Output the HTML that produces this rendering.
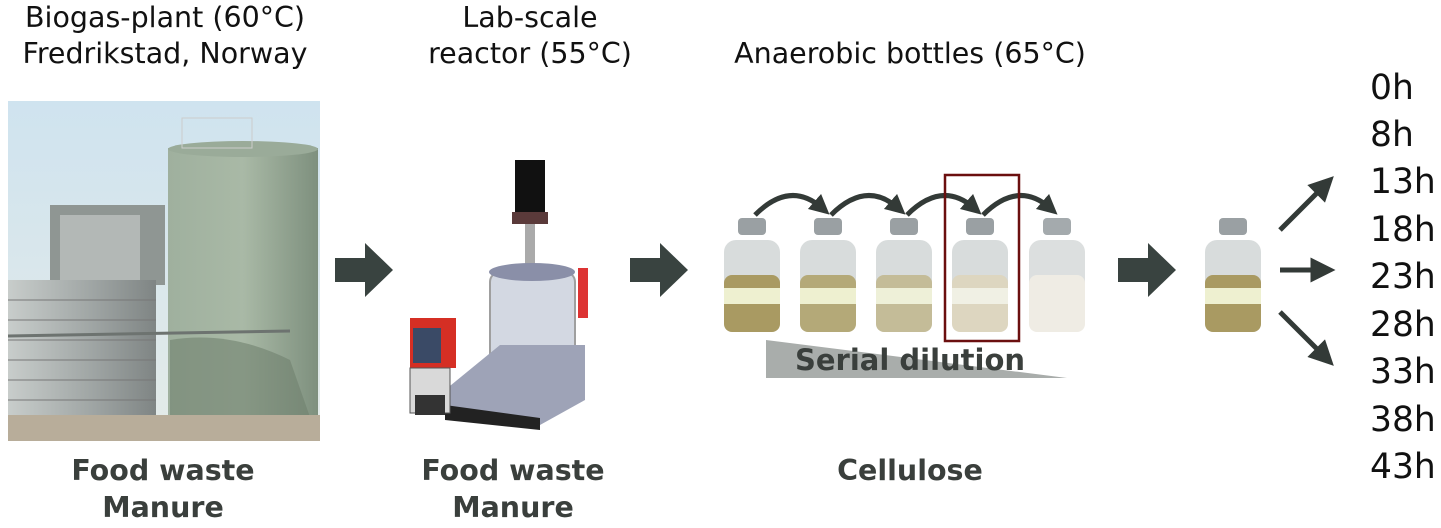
<!DOCTYPE html>
<html><head><meta charset="utf-8"><style>
body{margin:0;width:1441px;height:528px;background:#fff;position:relative;overflow:hidden;font-family:"DejaVu Sans","Liberation Sans",sans-serif}
.t{position:absolute;font-size:28.5px;color:#111;text-align:center;line-height:36px;white-space:nowrap}
.b{position:absolute;font-size:28.5px;font-weight:bold;color:#3a3f3c;text-align:center;line-height:37px;white-space:nowrap}
.h{position:absolute;left:1370px;font-size:34.5px;color:#111;line-height:40px}
</style></head><body>
<div class="t" style="left:0;width:330px;top:0">Biogas-plant (60°C)<br>Fredrikstad, Norway</div>
<div class="t" style="left:380px;width:300px;top:0">Lab-scale<br>reactor (55°C)</div>
<div class="t" style="left:700px;width:420px;top:36px">Anaerobic bottles (65°C)</div>
<div class="b" style="left:13px;width:300px;top:452px">Food waste<br>Manure</div>
<div class="b" style="left:363px;width:300px;top:452px">Food waste<br>Manure</div>
<div class="b" style="left:760px;width:300px;top:452px">Cellulose</div>
<div class="h" style="top:68px">0h</div><div class="h" style="top:115px">8h</div><div class="h" style="top:162px">13h</div><div class="h" style="top:210px">18h</div><div class="h" style="top:257px">23h</div><div class="h" style="top:305px">28h</div><div class="h" style="top:352px">33h</div><div class="h" style="top:400px">38h</div><div class="h" style="top:447px">43h</div>
<svg width="1441" height="528" style="position:absolute;left:0;top:0">
<defs>
<linearGradient id="sky" x1="0" y1="0" x2="0" y2="1"><stop offset="0" stop-color="#cfe3ef"/><stop offset="1" stop-color="#e4ebe8"/></linearGradient>
<linearGradient id="gt" x1="0" x2="1"><stop offset="0" stop-color="#9fb09e"/><stop offset=".5" stop-color="#a9b9a6"/><stop offset="1" stop-color="#7e907e"/></linearGradient>
<linearGradient id="st" x1="0" x2="1"><stop offset="0" stop-color="#c8cdcb"/><stop offset=".6" stop-color="#9da3a2"/><stop offset="1" stop-color="#7f8584"/></linearGradient>
<marker id="ah" markerWidth="4" markerHeight="4" refX="2" refY="2" orient="auto"><path d="M0,0L4,2L0,4z" fill="#333a37"/></marker>
<marker id="ah2" markerWidth="5" markerHeight="5" refX="2.5" refY="2.5" orient="auto"><path d="M0,0L5,2.5L0,5z" fill="#333a37"/></marker>
</defs>
<rect x="8" y="101" width="312" height="340" fill="url(#sky)"/>
<rect x="50" y="205" width="115" height="80" fill="#8f9693"/>
<rect x="60" y="215" width="80" height="70" fill="#b3b8b6"/>
<rect x="168" y="148" width="150" height="292" fill="url(#gt)"/>
<ellipse cx="243" cy="149" rx="75" ry="8" fill="#9aab99"/>
<rect x="182" y="118" width="70" height="30" fill="none" stroke="#ccc" stroke-width="1"/>
<rect x="8" y="280" width="148" height="160" fill="url(#st)"/>
<g stroke="#777" stroke-width="1"><line x1="8" y1="300" x2="156" y2="300"/><line x1="8" y1="320" x2="156" y2="320"/><line x1="8" y1="340" x2="156" y2="340"/><line x1="8" y1="360" x2="156" y2="360"/><line x1="8" y1="380" x2="156" y2="380"/><line x1="8" y1="400" x2="156" y2="400"/></g>
<line x1="8" y1="336" x2="290" y2="331" stroke="#6d7370" stroke-width="3"/>
<path d="M170 340 Q230 330 290 360 L318 440 L170 440z" fill="#6f806e" opacity=".6"/>
<rect x="8" y="415" width="312" height="26" fill="#b8ad9a"/>
<rect x="515" y="160" width="30" height="55" fill="#111"/>
<rect x="512" y="212" width="36" height="12" fill="#5a3a3a"/>
<rect x="525" y="224" width="10" height="50" fill="#aaa"/>
<rect x="490" y="272" width="85" height="115" rx="10" fill="#c9cfdc" stroke="#888" stroke-width="2" opacity=".8"/>
<ellipse cx="532" cy="272" rx="43" ry="9" fill="#8a8fa8"/>
<rect x="578" y="268" width="10" height="50" fill="#d33"/>
<path d="M445 390 L500 345 L585 345 L585 400 L540 425 L445 415z" fill="#9ea3b7"/>
<path d="M445 405 L540 418 L540 430 L445 420z" fill="#222"/>
<rect x="410" y="318" width="46" height="50" fill="#d52f24"/>
<rect x="413" y="328" width="28" height="35" fill="#3a4a66"/>
<rect x="410" y="368" width="40" height="45" fill="#d9d9d9" stroke="#555"/>
<rect x="415" y="395" width="30" height="20" fill="#333"/>
<g fill="#394340">
<path d="M335 258h30v-15l28 27-28 27v-15h-30z"/>
<path d="M630 258h30v-15l28 27-28 27v-15h-30z"/>
<path d="M1118 258h30v-15l28 27-28 27v-15h-30z"/>
</g>
<path d="M766 340 L766 378 L1067 378z" fill="#a9adab"/>
<text x="910" y="370" text-anchor="middle" font-family="DejaVu Sans,sans-serif" font-size="29" font-weight="bold" fill="#3a3f3c">Serial dilution</text>
<g>
<g transform="translate(752,0)"><rect x="-28" y="240" width="56" height="92" rx="12" fill="#d8dcdc"/><rect x="-28" y="275" width="56" height="57" rx="8" fill="#a99a62"/><rect x="-28" y="288" width="56" height="16" fill="#eef0d0"/><rect x="-14" y="218" width="28" height="17" rx="4" fill="#9aa0a3"/></g>
<g transform="translate(828,0)"><rect x="-28" y="240" width="56" height="92" rx="12" fill="#d8dcdc"/><rect x="-28" y="275" width="56" height="57" rx="8" fill="#b4a978"/><rect x="-28" y="288" width="56" height="16" fill="#eef0d0"/><rect x="-14" y="218" width="28" height="17" rx="4" fill="#9aa0a3"/></g>
<g transform="translate(904,0)"><rect x="-28" y="240" width="56" height="92" rx="12" fill="#d8dcdc"/><rect x="-28" y="275" width="56" height="57" rx="8" fill="#c4bc98"/><rect x="-28" y="288" width="56" height="16" fill="#eef0d8"/><rect x="-14" y="218" width="28" height="17" rx="4" fill="#9aa0a3"/></g>
<g transform="translate(980,0)"><rect x="-28" y="240" width="56" height="92" rx="12" fill="#d8dcdc"/><rect x="-28" y="275" width="56" height="57" rx="8" fill="#ddd6c0"/><rect x="-28" y="288" width="56" height="16" fill="#f0f0e4"/><rect x="-14" y="218" width="28" height="17" rx="4" fill="#9aa0a3"/></g>
<g transform="translate(1057,0)"><rect x="-28" y="240" width="56" height="92" rx="12" fill="#dcdfdf"/><rect x="-28" y="275" width="56" height="57" rx="8" fill="#efece4"/><rect x="-14" y="218" width="28" height="17" rx="4" fill="#a4aaad"/></g>
<g transform="translate(1233,0)"><rect x="-28" y="240" width="56" height="92" rx="12" fill="#d8dcdc"/><rect x="-28" y="275" width="56" height="57" rx="8" fill="#a99a62"/><rect x="-28" y="288" width="56" height="16" fill="#eef0d0"/><rect x="-14" y="218" width="28" height="17" rx="4" fill="#9aa0a3"/></g>
</g>
<g fill="none" stroke="#333a37" stroke-width="5" marker-end="url(#ah)">
<path d="M755 215 Q790 180 822 208"/>
<path d="M831 215 Q866 180 898 208"/>
<path d="M907 215 Q942 180 974 208"/>
<path d="M983 215 Q1018 180 1050 208"/>
</g>
<g fill="none" stroke="#333a37" stroke-width="5" marker-end="url(#ah2)">
<path d="M1280 230 L1325 185"/>
<path d="M1280 270 L1323 270"/>
<path d="M1280 312 L1325 357"/>
</g>
<rect x="945" y="175" width="74" height="166" fill="none" stroke="#6b0f0f" stroke-width="2.5"/>
</svg>
</body></html>
